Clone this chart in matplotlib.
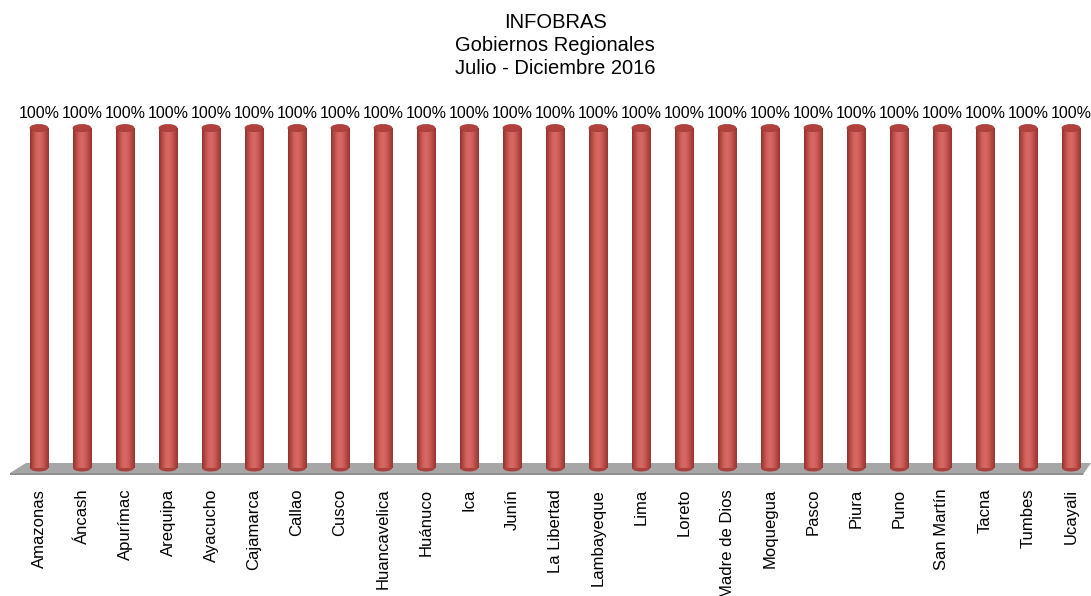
import matplotlib
matplotlib.use("Agg")
import matplotlib.pyplot as plt
import numpy as np
from matplotlib.patches import Ellipse, Polygon
from matplotlib.colors import LinearSegmentedColormap

plt.rcParams['font.family'] = ['Liberation Sans', 'DejaVu Sans']

regions = ["Amazonas", "Áncash", "Apurímac", "Arequipa", "Ayacucho", "Cajamarca",
           "Callao", "Cusco", "Huancavelica", "Huánuco", "Ica", "Junín",
           "La Libertad", "Lambayeque", "Lima", "Loreto", "Madre de Dios",
           "Moquegua", "Pasco", "Piura", "Puno", "San Martín", "Tacna",
           "Tumbes", "Ucayali"]
values = [100, 100, 100, 100, 100, 100, 100, 100, 100, 100, 100, 100, 100,
          100, 100, 100, 100, 100, 100, 100, 100, 100, 100, 100, 100]
value_labels = ["100%"] * len(values)
title_lines = ["INFOBRAS", "Gobiernos Regionales", "Julio - Diciembre 2016"]

W, H = 1091, 596
fig = plt.figure(figsize=(W / 100, H / 100), dpi=100)
fig.patch.set_facecolor("white")

ax_bottom_px = 468
ax_top_px = 128
ax = fig.add_axes([0, (H - ax_bottom_px) / H, 1, (ax_bottom_px - ax_top_px) / H])
x0_px, step_px = 39, 43
ax.set_xlim(-x0_px / step_px, (W - x0_px) / step_px)
ax.set_ylim(0, 100)
for s in ax.spines.values():
    s.set_visible(False)
ax.set_yticks([])
ax.set_facecolor("none")

px_per_unit = (ax_bottom_px - ax_top_px) / 100.0

def py(px):  # pixel row -> data y
    return (ax_bottom_px - px) / px_per_unit

def px_x(px):
    return (px - x0_px) / step_px

floor = Polygon([(px_x(26), py(463)), (px_x(1091), py(463)),
                 (px_x(1084), py(473)), (px_x(10), py(473))],
                closed=True, facecolor="#A6A6A6", edgecolor="none",
                clip_on=False, zorder=1)
ax.add_patch(floor)
front = Polygon([(px_x(10), py(473)), (px_x(1084), py(473)),
                 (px_x(1083), py(475)), (px_x(10), py(475))],
                closed=True, facecolor="#8E8E8E", edgecolor="none",
                clip_on=False, zorder=1)
ax.add_patch(front)

x = np.arange(len(regions))
bw = 0.42
bars = ax.bar(x, values, width=bw, color="#C0504D", zorder=2)

cmap = LinearSegmentedColormap.from_list(
    "cyl", ["#8E3431", "#B84A46", "#D1625E", "#D86A66", "#CD5C58", "#B44744", "#953633"])
grad = np.linspace(0, 1, 64).reshape(1, -1)
ell_h = 7 / px_per_unit
for b in bars:
    bx = b.get_x()
    bh = b.get_height()
    im = ax.imshow(grad, cmap=cmap, aspect="auto",
                   extent=[bx, bx + bw, 0, bh], zorder=3, interpolation="bilinear")
    im.set_clip_path(b)
    ax.add_patch(Ellipse((bx + bw / 2, 0), bw, ell_h, facecolor="#A9423F",
                         edgecolor="none", zorder=2.5, clip_on=False))
    ax.add_patch(Ellipse((bx + bw / 2, bh), bw, ell_h, facecolor="#B2413E",
                         edgecolor="#9A3835", linewidth=0.5, zorder=4, clip_on=False))

for xi, v, lab in zip(x, values, value_labels):
    ax.text(xi, v + 14 / px_per_unit, lab, ha="center", va="center",
            fontsize=11.5, color="black", clip_on=False)

ax.set_xticks(x)
ax.set_xticklabels(regions, rotation=90, fontsize=12, va="top", ha="center")
ax.tick_params(axis="x", length=0, pad=15)

fig.text(0.509, 1 - 13 / H, "\n".join(title_lines), ha="center", va="top",
         fontsize=14.5, linespacing=1.28)

fig.savefig("out.png", dpi=100)
